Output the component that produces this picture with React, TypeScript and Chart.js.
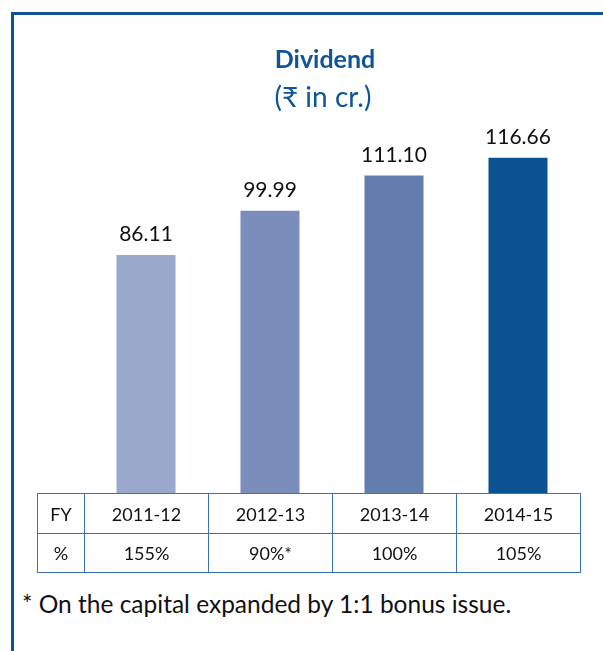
import React, { useEffect, useRef } from "react";
import { Chart, registerables } from "chart.js";

Chart.register(...registerables);

const categories = ["2011-12", "2012-13", "2013-14", "2014-15"];
const dividendValues = [86.11, 99.99, 111.1, 116.66];
const percentLabels = ["155%", "90%*", "100%", "105%"];
const barColors = ["#9AA8CB", "#7B8DBB", "#627DAE", "#0B5292"];
const titleText = "Dividend";
const subtitleText = "(₹ in cr.)";
const footnoteText = "* On the capital expanded by 1:1 bonus issue.";

const BLUE = "#0E5496";
const FONT = "Lato, 'Noto Sans', sans-serif";

const valueLabelPlugin = {
  id: "valueLabels",
  afterDatasetsDraw(chart: any) {
    const ctx = chart.ctx;
    const meta = chart.getDatasetMeta(0);
    ctx.save();
    ctx.font = `21px ${FONT}`;
    ctx.fillStyle = "#111111";
    ctx.textAlign = "center";
    ctx.textBaseline = "bottom";
    meta.data.forEach((bar: any, i: number) => {
      const v = chart.data.datasets[0].data[i] as number;
      ctx.fillText(v.toFixed(2), bar.x, bar.y - 10);
    });
    ctx.restore();
  },
};

export default function App() {
  const canvasRef = useRef<HTMLCanvasElement | null>(null);

  useEffect(() => {
    if (!canvasRef.current) return;
    const chart = new Chart(canvasRef.current, {
      type: "bar",
      data: {
        labels: categories,
        datasets: [
          {
            data: dividendValues,
            backgroundColor: barColors,
            borderWidth: 0,
            barPercentage: 0.476,
            categoryPercentage: 1,
          },
        ],
      },
      options: {
        animation: false,
        responsive: false,
        maintainAspectRatio: false,
        layout: { padding: { left: 84, right: 23, top: 120, bottom: 0 } },
        scales: {
          x: { display: false },
          y: { display: false, min: 11, max: 128.5 },
        },
        plugins: {
          legend: { display: false },
          tooltip: { enabled: false },
          title: { display: false },
          subtitle: { display: false },
        },
      },
      plugins: [valueLabelPlugin],
    });
    return () => chart.destroy();
  }, []);

  const cell: React.CSSProperties = {
    border: "1.5px solid #3A72B3",
    textAlign: "center",
    verticalAlign: "middle",
    padding: 0,
    fontFamily: FONT,
    fontSize: 18,
    color: "#111111",
  };

  return (
    <div
      style={{
        position: "absolute",
        left: 0,
        top: 0,
        width: 603,
        height: 651,
        background: "#ffffff",
        overflow: "hidden",
      }}
    >
      <div
        style={{
          position: "absolute",
          left: 11,
          top: 12,
          right: -10,
          bottom: -10,
          borderLeft: `3px solid ${BLUE}`,
          borderTop: `3px solid ${BLUE}`,
        }}
      />
      <canvas
        ref={canvasRef}
        width={603}
        height={494}
        style={{ position: "absolute", left: 0, top: 0, width: 603, height: 494 }}
      />
      <div
        style={{
          position: "absolute",
          left: 25,
          width: 600,
          top: 43,
          textAlign: "center",
          fontFamily: FONT,
          fontSize: 25,
          fontWeight: "bold",
          lineHeight: "30px",
          color: BLUE,
        }}
      >
        {titleText}
      </div>
      <div
        style={{
          position: "absolute",
          left: 23,
          width: 600,
          top: 79,
          textAlign: "center",
          fontFamily: FONT,
          fontSize: 28,
          lineHeight: "34px",
          color: BLUE,
        }}
      >
        {subtitleText}
      </div>
      <table
        style={{
          position: "absolute",
          left: 37,
          top: 493,
          width: 544,
          borderCollapse: "collapse",
          tableLayout: "fixed",
        }}
      >
        <colgroup>
          <col style={{ width: 47 }} />
          {categories.map((c) => (
            <col key={c} style={{ width: 124 }} />
          ))}
        </colgroup>
        <tbody>
          <tr style={{ height: 40 }}>
            <td style={cell}>FY</td>
            {categories.map((c) => (
              <td key={c} style={cell}>
                {c}
              </td>
            ))}
          </tr>
          <tr style={{ height: 39 }}>
            <td style={cell}>%</td>
            {percentLabels.map((p, i) => (
              <td key={i} style={cell}>
                {p}
              </td>
            ))}
          </tr>
        </tbody>
      </table>
      <div
        style={{
          position: "absolute",
          left: 22,
          top: 592,
          fontFamily: FONT,
          fontSize: 24.5,
          lineHeight: "24px",
          color: "#111111",
          whiteSpace: "nowrap",
        }}
      >
        {footnoteText}
      </div>
    </div>
  );
}
